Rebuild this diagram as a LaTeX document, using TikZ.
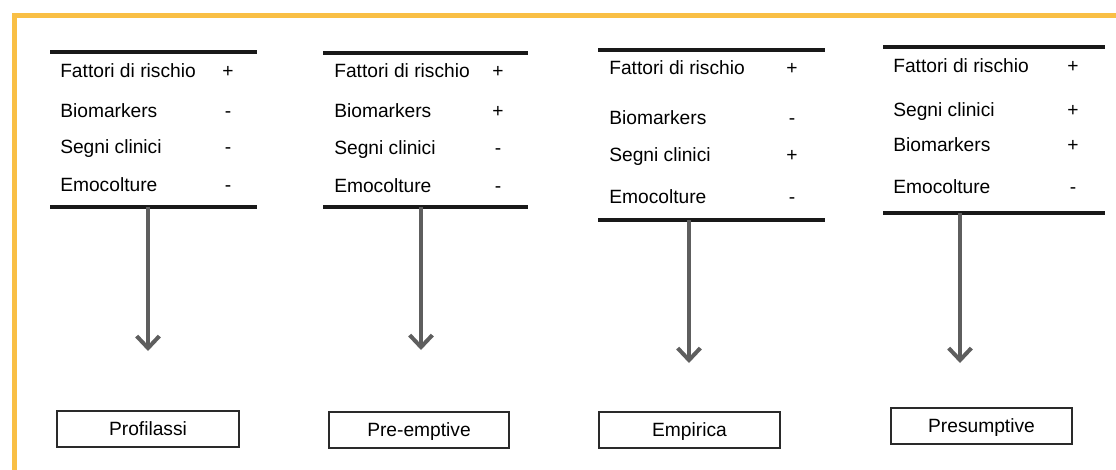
\documentclass[tikz,border=0pt]{standalone}
\usepackage{fontspec}
\setmainfont{Liberation Sans}
\usetikzlibrary{arrows.meta}
\definecolor{frameorange}{HTML}{F9BF45}
\definecolor{arrowgray}{HTML}{5E5E5E}
\definecolor{boxgray}{HTML}{2A2A2A}
\tikzset{
  rule/.style={line width=2.3pt, black!90},
  lbl/.style={anchor=base west, inner sep=0pt, font=\fontsize{14.4}{17}\selectfont},
  sgn/.style={anchor=base, inner sep=0pt, font=\fontsize{14.4}{17}\selectfont},
  flow/.style={line width=3pt, arrowgray, -{Straight Barb[length=9pt,width=17pt]}},
  outcome/.style={draw=boxgray, line width=1.4pt, minimum height=27pt, inner sep=0pt,
    text height=10.3pt, text depth=0pt, font=\fontsize{14.4}{17}\selectfont}
}
\begin{document}
\begin{tikzpicture}[x=0.75pt, y=-0.75pt]
\useasboundingbox (0,0) rectangle (1116,470);
\fill[white] (0,0) rectangle (1116,470);
% outer frame
\draw[frameorange, line width=3.75pt] (14,470) -- (14,15.5) -- (1116,15.5);

% ---- column 1: Profilassi
\draw[rule] (50,52) coordinate (t1a) -- (257,52) coordinate (t1b);
\node[lbl] (f1) at (60,78) {Fattori di rischio};
\node[sgn] (f1s) at (228,78) {+};
\node[lbl] (b1) at (60,118) {Biomarkers};
\node[sgn] (b1s) at (228,118) {-};
\node[lbl] (s1) at (60,154) {Segni clinici};
\node[sgn] (s1s) at (228,154) {-};
\node[lbl] (e1) at (60,192) {Emocolture};
\node[sgn] (e1s) at (228,192) {-};
\draw[rule] (50,207) coordinate (u1a) -- (257,207) coordinate (u1b);
\coordinate (a1s) at (148,207);
\coordinate (a1e) at (148,351);
\draw[flow] (a1s) -- (a1e);
\node[outcome, minimum width=136.5pt] (o1) at (148,429) {Profilassi};

% ---- column 2: Pre-emptive
\draw[rule] (323,53) coordinate (t2a) -- (528,53) coordinate (t2b);
\node[lbl] (f2) at (334,78) {Fattori di rischio};
\node[sgn] (f2s) at (498,78) {+};
\node[lbl] (b2) at (334,118) {Biomarkers};
\node[sgn] (b2s) at (498,118) {+};
\node[lbl] (s2) at (334,155) {Segni clinici};
\node[sgn] (s2s) at (498,155) {-};
\node[lbl] (e2) at (334,193) {Emocolture};
\node[sgn] (e2s) at (498,193) {-};
\draw[rule] (323,207) coordinate (u2a) -- (528,207) coordinate (u2b);
\coordinate (a2s) at (421,207);
\coordinate (a2e) at (421,350);
\draw[flow] (a2s) -- (a2e);
\node[outcome, minimum width=135pt] (o2) at (419,430) {Pre-emptive};

% ---- column 3: Empirica
\draw[rule] (598,50) coordinate (t3a) -- (825,50) coordinate (t3b);
\node[lbl] (f3) at (609,75) {Fattori di rischio};
\node[sgn] (f3s) at (792,75) {+};
\node[lbl] (b3) at (609,125) {Biomarkers};
\node[sgn] (b3s) at (792,125) {-};
\node[lbl] (s3) at (609,162) {Segni clinici};
\node[sgn] (s3s) at (792,162) {+};
\node[lbl] (e3) at (609,204) {Emocolture};
\node[sgn] (e3s) at (792,204) {-};
\draw[rule] (598,220) coordinate (u3a) -- (825,220) coordinate (u3b);
\coordinate (a3s) at (689,220);
\coordinate (a3e) at (689,363);
\draw[flow] (a3s) -- (a3e);
\node[outcome, minimum width=135.5pt] (o3) at (689.5,430) {Empirica};

% ---- column 4: Presumptive
\draw[rule] (883,47) coordinate (t4a) -- (1105,47) coordinate (t4b);
\node[lbl] (f4) at (893,73) {Fattori di rischio};
\node[sgn] (f4s) at (1073,73) {+};
\node[lbl] (s4) at (893,117) {Segni clinici};
\node[sgn] (s4s) at (1073,117) {+};
\node[lbl] (b4) at (893,152) {Biomarkers};
\node[sgn] (b4s) at (1073,152) {+};
\node[lbl] (e4) at (893,194) {Emocolture};
\node[sgn] (e4s) at (1073,194) {-};
\draw[rule] (883,213) coordinate (u4a) -- (1105,213) coordinate (u4b);
\coordinate (a4s) at (960,213);
\coordinate (a4e) at (960,363);
\draw[flow] (a4s) -- (a4e);
\node[outcome, minimum width=135.5pt] (o4) at (981.5,426) {Presumptive};
\end{tikzpicture}
\end{document}
